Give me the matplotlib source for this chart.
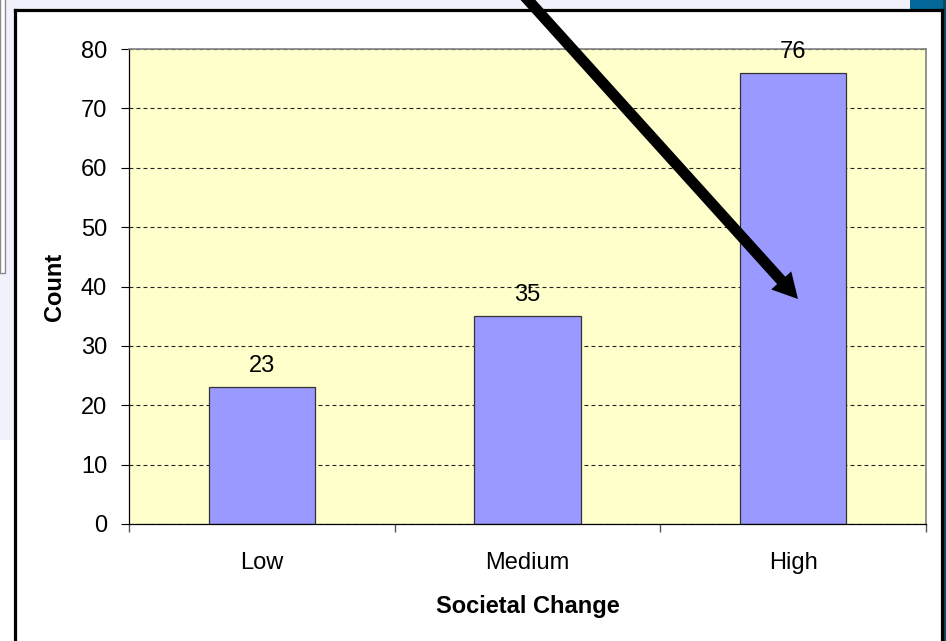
import matplotlib
matplotlib.use("Agg")
import matplotlib.pyplot as plt
from matplotlib.patches import Rectangle, FancyArrow
from matplotlib.lines import Line2D
from matplotlib.transforms import IdentityTransform

categories = ["Low", "Medium", "High"]
counts = [23, 35, 76]
y_ticks = [0, 10, 20, 30, 40, 50, 60, 70, 80]
x_label = "Societal Change"
y_label = "Count"

W, H = 946, 641

plt.rcParams["font.family"] = ["Liberation Sans", "DejaVu Sans"]


def fx(px):
    return px / W


def fy(py):
    # pixel rows counted from the top
    return 1 - py / H


fig = plt.figure(figsize=(W / 100, H / 100), dpi=100)
fig.patch.set_facecolor("white")

# slide background around the chart frame
lav = "#f1f1fb"
fig.add_artist(Rectangle((0, fy(10)), 1, 10 / H, transform=fig.transFigure,
                         color=lav, lw=0, zorder=-5))
fig.add_artist(Rectangle((0, fy(440)), fx(15), 440 / H, transform=fig.transFigure,
                         color=lav, lw=0, zorder=-5))
fig.add_artist(Rectangle((fx(910), fy(9)), fx(36), 9 / H, transform=fig.transFigure,
                         color="#05679a", lw=0, zorder=-4))
fig.add_artist(Rectangle((fx(943), 0), fx(3), 1, transform=fig.transFigure,
                         color="#0b4c5a", lw=0, zorder=-4))
fig.add_artist(Rectangle((0, fy(273)), fx(4.5), fy(0) - fy(273) + 0.01,
                         transform=fig.transFigure, facecolor="white",
                         edgecolor="#8a8a8a", lw=1, zorder=-4))

# chart frame
fig.add_artist(Rectangle((fx(15), -0.02), fx(942) - fx(15), fy(10) + 0.02,
                         transform=fig.transFigure, facecolor="white",
                         edgecolor="none", zorder=-3))
for xs, ys in [([fx(15), fx(15)], [-0.02, fy(10)]),
               ([fx(15), fx(942)], [fy(10), fy(10)]),
               ([fx(942), fx(942)], [fy(10), -0.02])]:
    fig.add_artist(Line2D(xs, ys, transform=fig.transFigure, color="black",
                          lw=2.3, zorder=-2, solid_capstyle="projecting"))

ax = fig.add_axes([fx(129), fy(524), fx(926) - fx(129), fy(49) - fy(524)])
ax.set_facecolor("#ffffcc")

x = list(range(len(categories)))
ax.bar(x, counts, width=0.4, color="#9999ff", edgecolor="#333333", linewidth=0.9, zorder=2)

for xi, v in zip(x, counts):
    ax.annotate(str(v), (xi, v), xytext=(0, 10.8), textcoords="offset points",
                ha="center", va="baseline", fontsize=17, color="black")

ax.set_xlim(-0.5, len(categories) - 0.5)
ax.set_ylim(y_ticks[0], y_ticks[-1])
ax.set_yticks(y_ticks)

ax.set_xticks([i - 0.5 for i in range(len(categories) + 1)])
ax.set_xticklabels([])
ax.set_xticks(x, minor=True)
ax.set_xticklabels(categories, minor=True, fontsize=17)
ax.tick_params(axis="x", which="major", direction="out", length=5.8, width=1,
               color="#555555")
ax.tick_params(axis="x", which="minor", length=0, pad=20.5)
ax.tick_params(axis="y", direction="out", length=5.8, width=0.8, color="black",
               pad=10, labelsize=17)

ax.set_axisbelow(True)
ax.yaxis.grid(True, color="#222222", linestyle=(0, (3.5, 2.8)), linewidth=0.8)

for side in ["left", "bottom"]:
    ax.spines[side].set_color("black")
    ax.spines[side].set_linewidth(0.9)
for side in ["top", "right"]:
    ax.spines[side].set_color("#808080")
    ax.spines[side].set_linewidth(1.2)

ax.set_xlabel(x_label, fontsize=17, fontweight="bold", va="center")
ax.xaxis.set_label_coords(0.5, (524 - 607) / (524 - 49))
ax.set_ylabel(y_label, fontsize=17, fontweight="bold", va="center")
ax.yaxis.set_label_coords((55 - 129) / (926 - 129), 0.5)

# pointer arrow drawn over the chart, in pixel units
x0, y0 = 519, H + 10
x1, y1 = 798, H - 299
fig.add_artist(FancyArrow(x0, y0, x1 - x0, y1 - y0, width=11, head_width=27,
                          head_length=25, length_includes_head=True,
                          color="black", lw=0, transform=IdentityTransform(),
                          zorder=10))

fig.savefig("out.png", dpi=100)
